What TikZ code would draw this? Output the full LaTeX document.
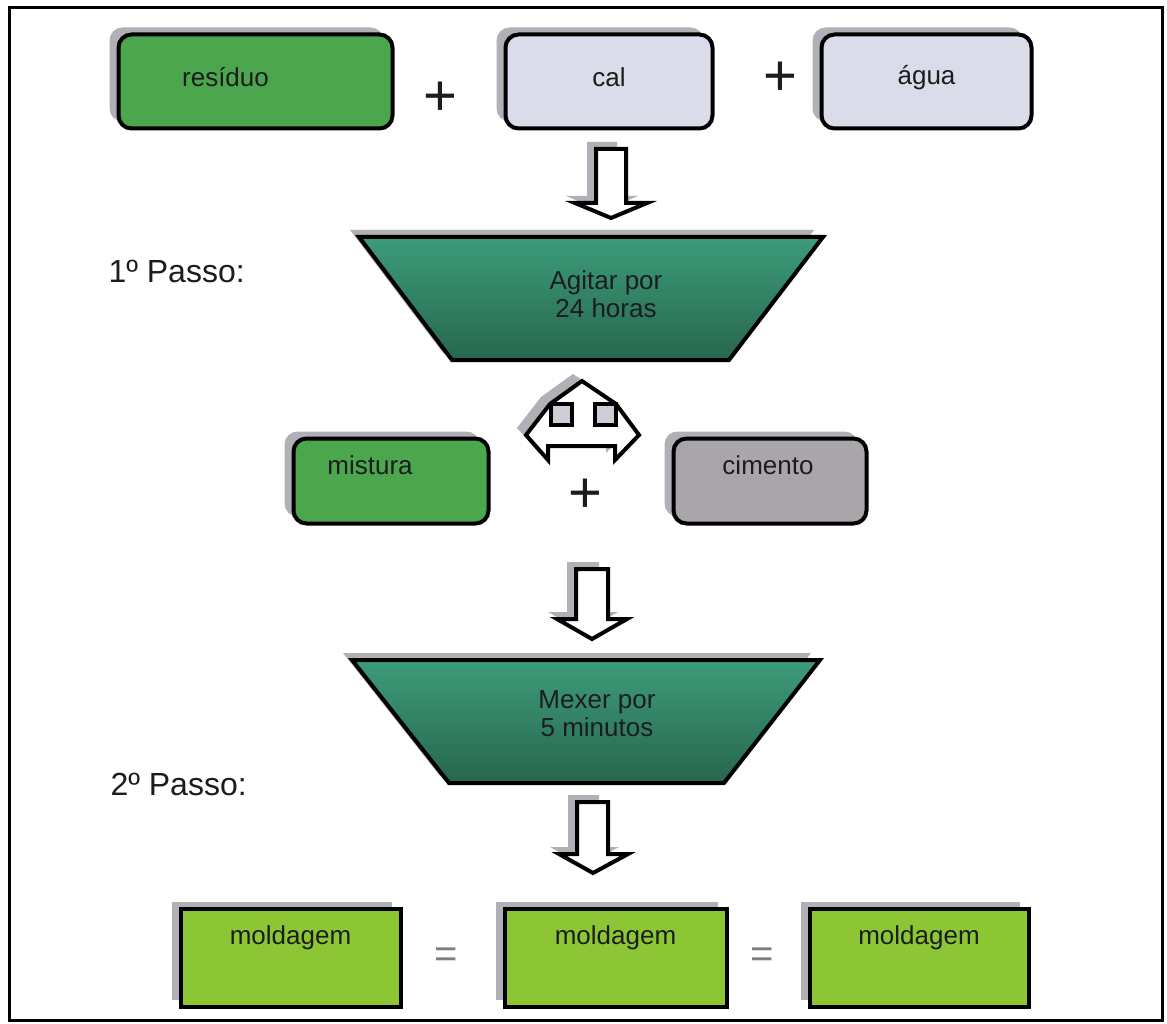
\documentclass[tikz,border=0pt]{standalone}
\usepackage{fontspec}
\setmainfont{Liberation Sans}
\usetikzlibrary{calc}
\definecolor{grnA}{RGB}{76,166,78}
\definecolor{lav}{RGB}{218,221,233}
\definecolor{cimg}{RGB}{170,165,170}
\definecolor{lime}{RGB}{140,198,52}
\definecolor{tealT}{RGB}{60,156,122}
\definecolor{tealB}{RGB}{40,102,78}
\definecolor{shad}{RGB}{176,176,182}
\definecolor{notch}{RGB}{205,205,214}
\definecolor{txt}{RGB}{28,28,28}
\definecolor{eqc}{RGB}{125,125,125}
\tikzset{
  shadowed/.style={preaction={fill=shad, draw=none, transform canvas={shift={(-9pt,7pt)}}}},
  boxtext/.style={font=\fontsize{26}{28}\selectfont, text=txt},
  passotext/.style={font=\fontsize{32}{34}\selectfont, text=txt, anchor=base west},
  optext/.style={font=\fontsize{58}{58}\selectfont, text=txt},
  eqtext/.style={font=\fontsize{40}{40}\selectfont, text=eqc},
  rbox/.style={draw=black, line width=4pt, rounded corners=13pt, inner sep=0pt, shadowed},
  sbox/.style={draw=black, line width=4pt, inner sep=0pt, shadowed},
  blockarrow/.style={draw=black, line width=4pt, fill=white, line join=miter, shadowed},
  trap/.style={draw=black, line width=4pt, top color=tealT, bottom color=tealB, line join=miter, shadowed},
}
\begin{document}
\begin{tikzpicture}[x=1pt, y=-1pt]
\useasboundingbox (0,0) rectangle (1167,1024);
\fill[white] (0,0) rectangle (1167,1024);
\draw[line width=3pt] (9,8) rectangle (1162,1020);

% top row
\node[rbox, fill=grnA, minimum width=274pt, minimum height=94pt,
  label={[boxtext, name=residuoT, xshift=-30pt, yshift=4pt]center:resíduo}] (residuo) at (255.5,81.5) {};
\node[rbox, fill=lav, minimum width=207pt, minimum height=94pt,
  label={[boxtext, name=calT, yshift=4pt]center:cal}] (cal) at (609,81.5) {};
\node[rbox, fill=lav, minimum width=210pt, minimum height=94pt,
  label={[boxtext, name=aguaT, yshift=4pt]center:água}] (agua) at (926.5,81.5) {};
\node[optext] (plus1) at (440,99) {+};
\node[optext] (plus2) at (780,79) {+};

% arrow 1
\path[blockarrow] (596,149) -- (626,149) -- (626,203) -- (647,203) -- (611,218) -- (575,203) -- (596,203) -- cycle;

% step 1
\path[trap] (359,237) -- (823,237) -- (729,360) -- (452,360) -- cycle;
\node[boxtext, align=center] (step1) at (606,294) {Agitar por\\24 horas};
\node[passotext] (passo1) at (105,283) {1º Passo:};

% three-way arrow
\path[blockarrow] (582,381) -- (616,404) -- (639,435) -- (615,460) -- (615,446) -- (548,446)
  -- (548,460) -- (526,435) -- (550,404) -- cycle;
\draw[line width=3.5pt, fill=notch] (551,404) rectangle (572,425);
\draw[line width=3.5pt, fill=notch] (595,404) rectangle (616,425);

% middle row
\node[rbox, fill=grnA, minimum width=195pt, minimum height=85pt,
  label={[boxtext, name=misturaT, xshift=-21pt, yshift=16pt]center:mistura}] (mistura) at (391,481) {};
\node[rbox, fill=cimg, minimum width=193pt, minimum height=85pt,
  label={[boxtext, name=cimentoT, xshift=-2pt, yshift=16pt]center:cimento}] (cimento) at (770,481) {};
\node[optext] (plus3) at (585,496) {+};

% arrow 2
\path[blockarrow] (576,569) -- (608,569) -- (608,619) -- (627,619) -- (592,639) -- (557,619) -- (576,619) -- cycle;

% step 2
\path[trap] (352,660) -- (820,660) -- (724,783) -- (449,783) -- cycle;
\node[boxtext, align=center] (step2) at (597,714) {Mexer por\\5 minutos};
\node[passotext] (passo2) at (107,795) {2º Passo:};

% arrow 3
\path[blockarrow] (577,802) -- (608,802) -- (608,854) -- (628,854) -- (593,873) -- (559,854) -- (577,854) -- cycle;

% bottom row
\node[sbox, fill=lime, minimum width=220pt, minimum height=98pt,
  label={[boxtext, name=mold1T, yshift=20pt]center:moldagem}] (mold1) at (290.5,957.5) {};
\node[sbox, fill=lime, minimum width=222pt, minimum height=98pt,
  label={[boxtext, name=mold2T, yshift=20pt]center:moldagem}] (mold2) at (615.5,957.5) {};
\node[sbox, fill=lime, minimum width=219pt, minimum height=98pt,
  label={[boxtext, name=mold3T, yshift=20pt]center:moldagem}] (mold3) at (919,957.5) {};
\node[eqtext] (eq1) at (446,958) {=};
\node[eqtext] (eq2) at (762,958) {=};
\end{tikzpicture}
\end{document}
